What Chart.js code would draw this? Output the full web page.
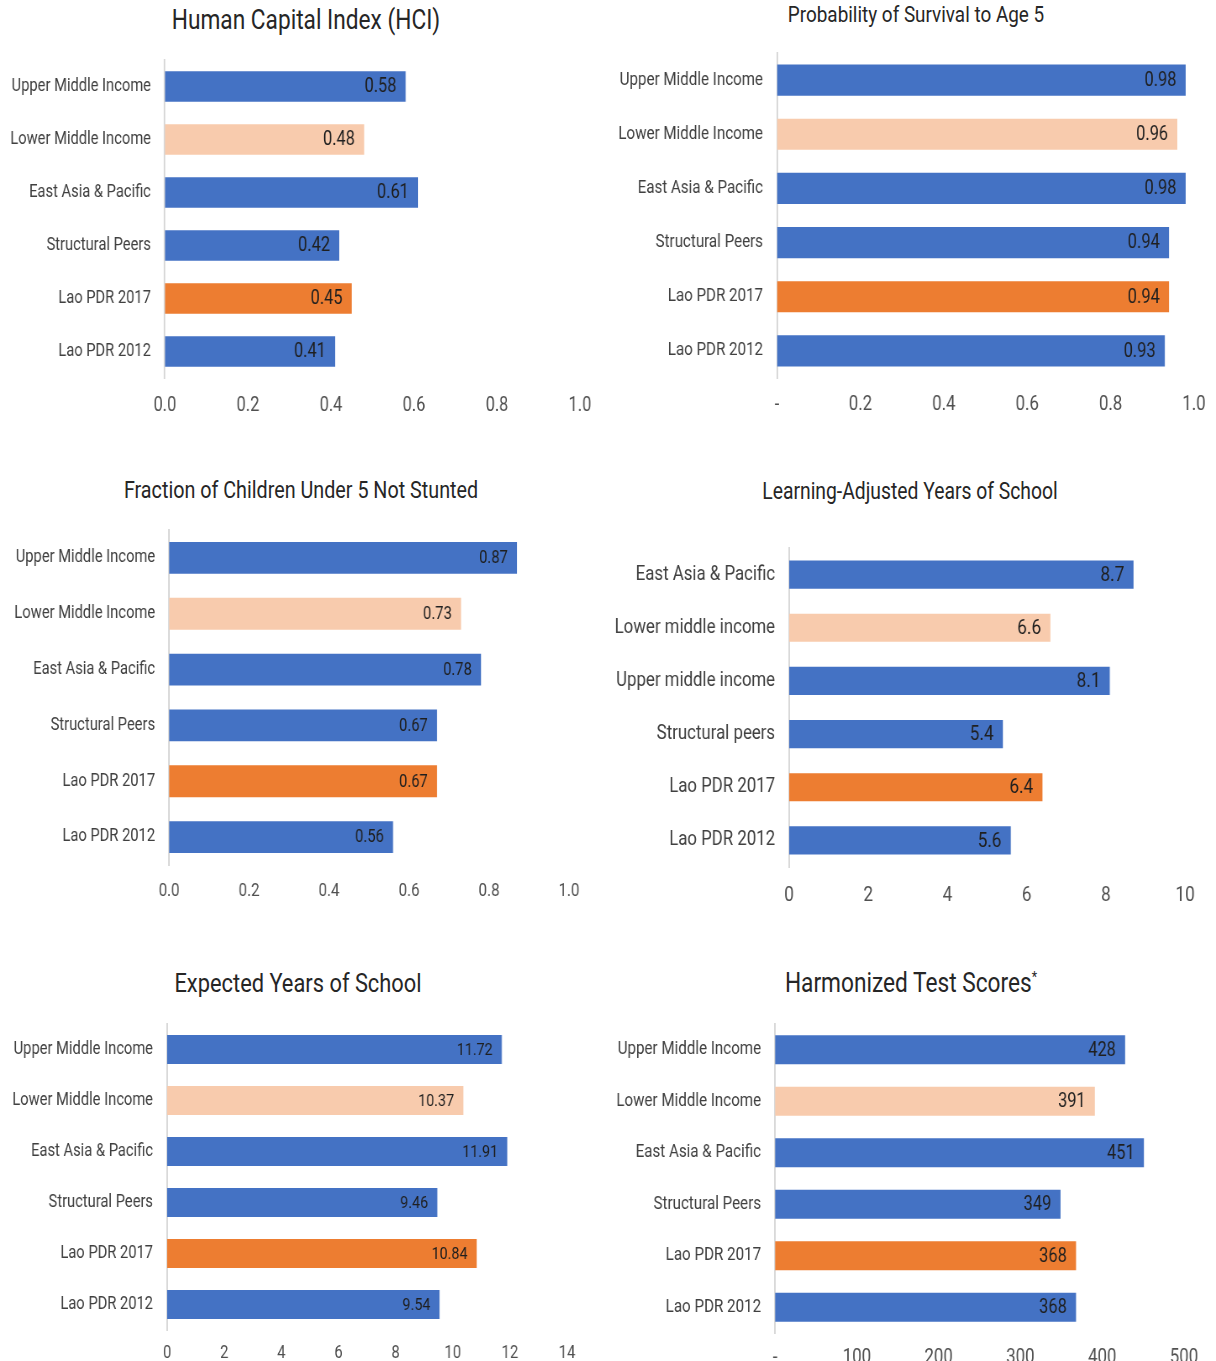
<!DOCTYPE html>
<html>
<head>
<meta charset="utf-8">
<script src="https://cdn.jsdelivr.net/npm/chart.js@4.4.0/dist/chart.umd.min.js"></script>
<style>
  body { margin: 0; background: #fff; width: 1216px; height: 1361px; overflow: hidden; position: relative;
         font-family: Roboto, sans-serif; }
  .title { position: absolute; transform: translate(-50%, -50%) scaleX(0.84); white-space: nowrap; color: #262626; }
  .title sup { font-size: 55%; }
  canvas { position: absolute; }
</style>
</head>
<body>
<script>
// categories
const groupLabels = ["Upper Middle Income", "Lower Middle Income", "East Asia & Pacific", "Structural Peers", "Lao PDR 2017", "Lao PDR 2012"];
const laysLabels = ["East Asia & Pacific", "Lower middle income", "Upper middle income", "Structural peers", "Lao PDR 2017", "Lao PDR 2012"];

// series values
const hciValues = [0.58, 0.48, 0.61, 0.42, 0.45, 0.41];
const survivalValues = [0.98, 0.96, 0.98, 0.94, 0.94, 0.93];
const notStuntedValues = [0.87, 0.73, 0.78, 0.67, 0.67, 0.56];
const laysValues = [8.7, 6.6, 8.1, 5.4, 6.4, 5.6];
const eysValues = [11.72, 10.37, 11.91, 9.46, 10.84, 9.54];
const htsValues = [428, 391, 451, 349, 368, 368];

// x axis ranges: min, max, step
const hciTicks = [0, 1, 0.2];
const survivalTicks = [0, 1, 0.2];
const notStuntedTicks = [0, 1, 0.2];
const laysTicks = [0, 10, 2];
const eysTicks = [0, 14, 2];
const htsTicks = [0, 500, 100];

const barColors = ["#4472C4", "#F8CBAD", "#4472C4", "#4472C4", "#ED7D31", "#4472C4"];
const FONT = "Roboto, sans-serif";
// 字型是窄體，整張畫布水平壓縮
const SQUEEZE = 0.84;

// 數值標籤畫在長條內側右端
const valueLabels = {
  id: "valueLabels",
  afterDatasetsDraw(chart, args, opts) {
    const ctx = chart.ctx;
    const meta = chart.getDatasetMeta(0);
    const data = chart.data.datasets[0].data;
    ctx.save();
    ctx.font = `${opts.size}px ${FONT}`;
    ctx.fillStyle = "#1f1f1f";
    ctx.textAlign = "right";
    ctx.textBaseline = "middle";
    meta.data.forEach((bar, i) => {
      ctx.fillText(data[i].toFixed(opts.decimals), bar.x - 11, bar.y + 1);
    });
    ctx.restore();
  },
};

const panels = [
  { title: "Human Capital Index (HCI)", tx: 306, ty: 20, tsize: 27,
    labels: groupLabels, values: hciValues, range: hciTicks, dash: false, tickDec: 1, valDec: 2,
    left: 0, top: 60, plotH: 318, axisX: 165, maxX: 580, barPct: 0.58,
    labelSize: 17.5, tickSize: 19.5, valSize: 19.5, tickPad: 16 },
  { title: "Probability of Survival to Age 5", tx: 916, ty: 14, tsize: 22.5,
    labels: groupLabels, values: survivalValues, range: survivalTicks, dash: true, tickDec: 1, valDec: 2,
    left: 606, top: 53, plotH: 325, axisX: 777, maxX: 1194, barPct: 0.575,
    labelSize: 18, tickSize: 20, valSize: 19.5, tickPad: 15 },
  { title: "Fraction of Children Under 5 Not Stunted", tx: 301, ty: 490, tsize: 23.5,
    labels: groupLabels, values: notStuntedValues, range: notStuntedTicks, dash: false, tickDec: 1, valDec: 2,
    left: 0, top: 530, plotH: 335, axisX: 169, maxX: 569, barPct: 0.57,
    labelSize: 17.5, tickSize: 18, valSize: 17.5, tickPad: 16 },
  { title: "Learning-Adjusted Years of School", tx: 910, ty: 491, tsize: 23,
    labels: laysLabels, values: laysValues, range: laysTicks, dash: false, tickDec: 0, valDec: 1,
    left: 606, top: 548, plotH: 319, axisX: 789, maxX: 1185, barPct: 0.53,
    labelSize: 20, tickSize: 20.5, valSize: 20.5, tickPad: 17 },
  { title: "Expected Years of School", tx: 298, ty: 983, tsize: 26,
    labels: groupLabels, values: eysValues, range: eysTicks, dash: false, tickDec: 0, valDec: 2,
    left: 0, top: 1024, plotH: 306, axisX: 167, maxX: 567, barPct: 0.57,
    labelSize: 17.5, tickSize: 17.5, valSize: 17, tickPad: 13 },
  { title: "Harmonized Test Scores<sup>*</sup>", tx: 911, ty: 983, tsize: 27,
    labels: groupLabels, values: htsValues, range: htsTicks, dash: true, tickDec: 0, valDec: 0,
    left: 606, top: 1024, plotH: 309, axisX: 775, maxX: 1184, barPct: 0.56,
    labelSize: 18, tickSize: 20, valSize: 19.5, tickPad: 13 },
];

panels.forEach((p) => {
  const title = document.createElement("div");
  title.className = "title";
  title.innerHTML = p.title;
  title.style.left = p.tx + "px";
  title.style.top = p.ty + "px";
  title.style.fontSize = p.tsize + "px";
  document.body.appendChild(title);

  const padTop = 32;
  const padRight = 32;
  const axisH = 40;
  const cssW = p.maxX + padRight - p.left;
  const h = padTop + p.plotH + axisH;
  const canvas = document.createElement("canvas");
  canvas.width = Math.round(cssW / SQUEEZE);
  canvas.height = h;
  canvas.style.left = p.left + "px";
  canvas.style.top = p.top - padTop + "px";
  canvas.style.width = cssW + "px";
  canvas.style.height = h + "px";
  document.body.appendChild(canvas);

  new Chart(canvas, {
    type: "bar",
    data: {
      labels: p.labels,
      datasets: [{
        data: p.values,
        backgroundColor: barColors,
        borderWidth: 0,
        categoryPercentage: 1,
        barPercentage: p.barPct,
      }],
    },
    options: {
      indexAxis: "y",
      responsive: false,
      animation: false,
      layout: { padding: { top: padTop, right: padRight / SQUEEZE, bottom: 0, left: 0 } },
      plugins: {
        legend: { display: false },
        tooltip: { enabled: false },
        valueLabels: { size: p.valSize, decimals: p.valDec },
      },
      scales: {
        x: {
          min: p.range[0],
          max: p.range[1],
          ticks: {
            stepSize: p.range[2],
            autoSkip: false,
            maxRotation: 0,
            padding: p.tickPad,
            color: "#505050",
            font: { family: FONT, size: p.tickSize },
            callback: (v) => (v === 0 && p.dash ? "-" : Number(v).toFixed(p.tickDec)),
          },
          grid: { display: false, drawTicks: false },
          border: { display: false },
          afterFit: (s) => { s.height = axisH; },
        },
        y: {
          ticks: {
            padding: 14 / SQUEEZE,
            color: "#404040",
            font: { family: FONT, size: p.labelSize },
          },
          grid: { display: false, drawTicks: false },
          border: { display: true, color: "#d9d9d9", width: 2 },
          afterFit: (s) => { s.width = (p.axisX - p.left) / SQUEEZE; },
        },
      },
    },
    plugins: [valueLabels],
  });
});
</script>
</body>
</html>
